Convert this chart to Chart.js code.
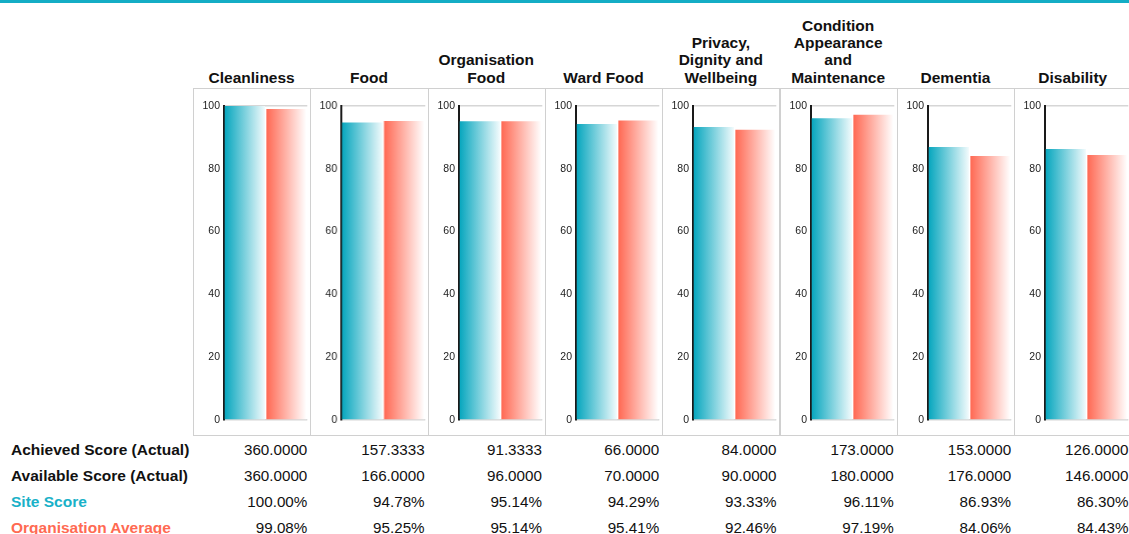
<!DOCTYPE html>
<html>
<head>
<meta charset="utf-8">
<script src="https://cdn.jsdelivr.net/npm/chart.js@4.4.1/dist/chart.umd.min.js"></script>
<style>
    body { margin: 0; background: #ffffff; font-family: Arial, "Liberation Sans", sans-serif; }
    #page { position: relative; width: 1129px; height: 534px; overflow: hidden; }
    .topbar { position: absolute; left: 0; top: 0; width: 1129px; height: 3px; background: #14adc5; }
    .title { position: absolute; bottom: 448px; text-align: center; font-weight: bold; font-size: 15.5px; line-height: 17.3px; color: #111; }
    .panel { position: absolute; top: 88px; height: 348px; border: 1px solid #d0d0d0; box-sizing: border-box; }
    .row-label { position: absolute; left: 11px; font-weight: bold; font-size: 15.5px; line-height: 26px; color: #111; white-space: nowrap; }
    .cell { position: absolute; font-size: 15.2px; line-height: 26px; color: #111; text-align: right; white-space: nowrap; }
</style>
</head>
<body>
<div id="page">
    <div class="topbar"></div>
</div>
<script>
// Scores per section
const categories = [
    ['Cleanliness'],
    ['Food'],
    ['Organisation', 'Food'],
    ['Ward Food'],
    ['Privacy,', 'Dignity and', 'Wellbeing'],
    ['Condition', 'Appearance', 'and', 'Maintenance'],
    ['Dementia'],
    ['Disability']
];
const achievedScore = ['360.0000', '157.3333', '91.3333', '66.0000', '84.0000', '173.0000', '153.0000', '126.0000'];
const availableScore = ['360.0000', '166.0000', '96.0000', '70.0000', '90.0000', '180.0000', '176.0000', '146.0000'];
const siteScore = [100.00, 94.78, 95.14, 94.29, 93.33, 96.11, 86.93, 86.30];
const orgAverage = [99.08, 95.25, 95.14, 95.41, 92.46, 97.19, 84.06, 84.43];
const yTicks = [0, 20, 40, 60, 80, 100];

const SITE_COLOR = '#03a5bd';
const ORG_COLOR = '#ff6650';
const PANEL_LEFT = 193;
const PANEL_WIDTH = 117.3;

const page = document.getElementById('page');

// Each bar fades from its colour to white, left to right
function barGradient(color, fade) {
    return function(context) {
        const chart = context.chart;
        const area = chart.chartArea;
        if (!area) return color;
        const half = (area.right - area.left) / 2;
        const x0 = area.left + context.datasetIndex * half;
        const g = chart.ctx.createLinearGradient(x0, 0, x0 + half - 1, 0);
        g.addColorStop(0, color);
        g.addColorStop(1, fade);
        return g;
    };
}

function addText(cls, text, left, top, width, color) {
    const el = document.createElement('div');
    el.className = cls;
    el.textContent = text;
    el.style.left = left + 'px';
    if (top !== null) el.style.top = top + 'px';
    if (width !== null) el.style.width = width + 'px';
    if (color) el.style.color = color;
    page.appendChild(el);
    return el;
}

categories.forEach((lines, i) => {
    const left = PANEL_LEFT + i * PANEL_WIDTH;

    // Section heading, bottom aligned above the panel
    const title = addText('title', '', left, null, PANEL_WIDTH, null);
    title.innerHTML = lines.join('<br>');

    const panel = document.createElement('div');
    panel.className = 'panel';
    panel.style.left = left + 'px';
    panel.style.width = (PANEL_WIDTH + 1) + 'px';
    const canvas = document.createElement('canvas');
    panel.appendChild(canvas);
    page.appendChild(panel);

    new Chart(canvas, {
        type: 'bar',
        data: {
            labels: [lines.join(' ')],
            datasets: [{
                label: 'Site Score',
                data: [siteScore[i]],
                backgroundColor: barGradient(SITE_COLOR, '#f0fafc'),
                borderWidth: 0
            }, {
                label: 'Organisation Average',
                data: [orgAverage[i]],
                backgroundColor: barGradient(ORG_COLOR, '#ffffff'),
                borderWidth: 0
            }]
        },
        options: {
            responsive: true,
            maintainAspectRatio: false,
            animation: false,
            categoryPercentage: 1.0,
            barPercentage: 0.965,
            layout: {
                padding: { left: 9, right: 3, top: 17, bottom: 15 }
            },
            plugins: {
                legend: { display: false },
                tooltip: { enabled: false }
            },
            scales: {
                x: {
                    display: false
                },
                y: {
                    min: 0,
                    max: 100,
                    afterBuildTicks: scale => {
                        scale.ticks = yTicks.map(v => ({ value: v }));
                    },
                    afterFit: scale => {
                        scale.width = 21;
                    },
                    ticks: {
                        padding: 4,
                        color: '#222222',
                        font: { family: 'Arial, "Liberation Sans", sans-serif', size: 10.5 }
                    },
                    grid: {
                        drawTicks: false,
                        lineWidth: 1.5,
                        color: ctx => (ctx.tick && (ctx.tick.value === 0 || ctx.tick.value === 100)) ? '#d6d6d6' : 'rgba(0,0,0,0)'
                    },
                    border: {
                        color: '#1a1a1a',
                        width: 2
                    }
                }
            }
        }
    });
});

// Score table under the panels
const rows = [
    { label: 'Achieved Score (Actual)', color: '#111111', values: achievedScore },
    { label: 'Available Score (Actual)', color: '#111111', values: availableScore },
    { label: 'Site Score', color: '#19b1c8', values: siteScore.map(v => v.toFixed(2) + '%') },
    { label: 'Organisation Average', color: '#ff6a52', values: orgAverage.map(v => v.toFixed(2) + '%') }
];

rows.forEach((row, r) => {
    const top = 437 + r * 26;
    addText('row-label', row.label, 11, top, null, row.color);
    row.values.forEach((text, i) => {
        addText('cell', text, PANEL_LEFT + i * PANEL_WIDTH, top, PANEL_WIDTH - 3, null);
    });
});
</script>
</body>
</html>
